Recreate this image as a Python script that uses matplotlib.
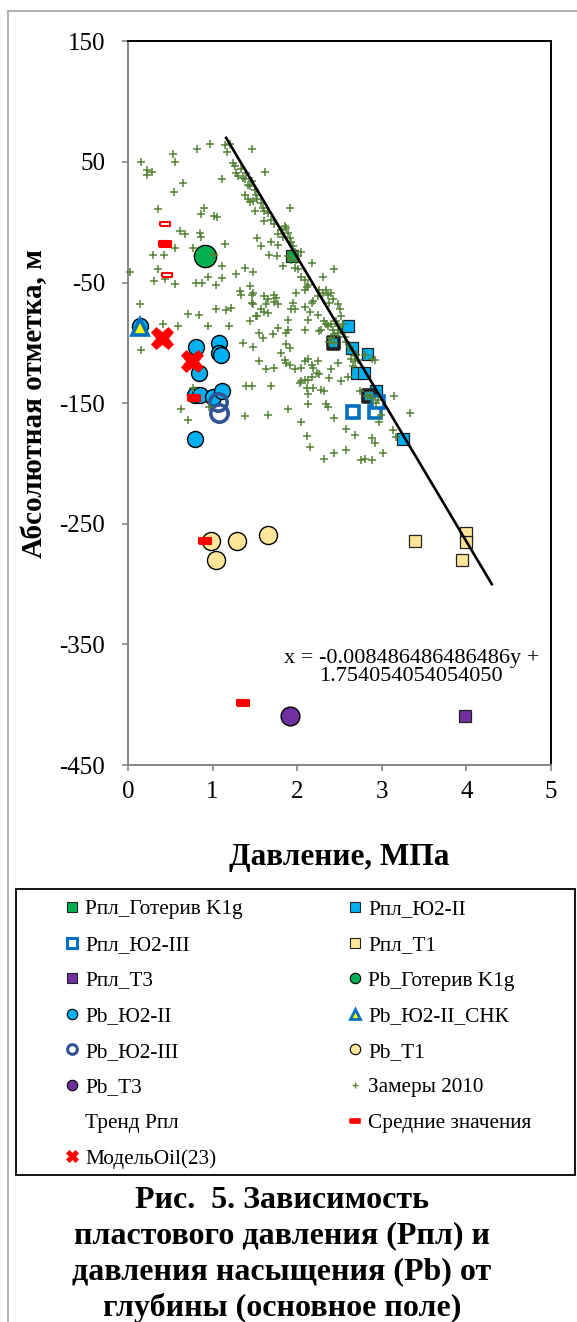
import matplotlib.pyplot as plt
from matplotlib.lines import Line2D
from matplotlib.patches import Rectangle
from matplotlib.markers import MarkerStyle

plt.rcParams['font.family'] = ['Liberation Serif', 'DejaVu Serif']
plt.rcParams['axes.unicode_minus'] = False

# ---------------- data (pressure, MPa ; absolute mark, m) ----------------
rpl_k1g_p = [1.94]
rpl_k1g_h = [-28]

rpl_u2ii_p = [2.60, 2.43, 2.65, 2.83, 2.71, 2.79, 2.93, 2.85, 3.25]
rpl_u2ii_h = [-86, -100, -104, -109, -125, -125, -140, -144, -180]

rpl_u2iii_p = [2.66, 2.92, 2.95]
rpl_u2iii_h = [-157, -157, -149]

rpl_t1_p = [3.39, 4.00, 3.99, 3.95]
rpl_t1_h = [-264, -258, -265, -280]

rpl_t3_p = [3.98]
rpl_t3_h = [-409]

pb_k1g_p = [0.91]
pb_k1g_h = [-28]

pb_u2ii_p = [0.14, 0.80, 1.08, 1.07, 1.10, 0.84, 0.79, 0.85, 1.01, 1.11, 0.79]
pb_u2ii_h = [-86, -103, -100, -108, -110, -125, -143, -143, -145, -140, -180]

pb_snk_p = [0.14]
pb_snk_h = [-87]

pb_u2iii_p = [1.06, 1.07]
pb_u2iii_h = [-149, -158]

pb_t1_p = [0.98, 1.29, 1.65, 1.04]
pb_t1_h = [-264, -264, -259, -280]

pb_t3_p = [1.91]
pb_t3_h = [-409]

mean_p = [0.44, 0.78, 0.91, 1.36]
mean_h = [-18, -146, -264, -399]
mean_open_p = [0.44, 0.46]
mean_open_h = [-1, -44]

model_p = [0.40, 0.76]
model_h = [-96, -115]

# trend: x = k*y + b
trend_k = -0.008486486486486
trend_b = 1.754054054054050
trend_h = [70, -300]

# Замеры 2010
zam_p = [
    0.97, 0.82, 0.53, 0.56, 0.15, 0.22, 0.28, 0.23, 1.46, 1.62,
    1.11, 0.65, 0.54, 0.35, 0.90, 0.86, 1.02, 1.05, 0.61, 0.67,
    0.85, 0.86, 0.29, 0.43, 0.55, 0.77, 1.15, 1.02, 0.36, 0.31,
    0.44, 0.56, 0.80, 0.88, 0.94, 1.04, 1.11, 1.11, 1.38, 1.48,
    1.28, 0.02, 0.14, 0.71, 0.84, 1.04, 1.16,
    1.15, 1.17, 1.20, 1.24, 1.26, 1.28, 1.30, 1.34, 1.36, 1.38,
    1.40, 1.42, 1.44, 1.46, 1.50, 1.38, 1.42, 1.44, 1.51, 1.53,
    1.57, 1.59, 1.61, 1.65, 1.48, 1.50, 1.69, 1.73, 1.77, 1.81,
    1.83, 1.85, 1.87, 1.89, 1.91, 1.93, 1.95, 1.97, 1.99, 2.01,
    2.05, 1.93, 1.97, 2.01, 2.05, 2.09, 2.13, 2.17, 1.77, 1.69,
    1.53, 1.57, 1.67, 1.76, 1.83, 1.89, 1.92, 1.61,
    2.44, 2.30,
    1.32, 1.34, 1.44, 1.46, 1.48, 1.46, 1.48, 1.61, 1.65, 1.63,
    1.73, 1.75, 1.77, 1.73, 1.61, 1.57, 1.65, 1.53, 1.22, 1.44,
    1.51, 1.93, 1.97, 1.95, 1.99, 2.09, 2.11, 2.17, 2.19, 2.09,
    2.15, 2.24, 2.26, 2.30, 2.34, 2.36, 2.40, 2.38, 2.42, 2.48,
    2.50, 2.52, 2.24, 2.32, 2.34, 2.40, 2.36, 2.42, 2.44, 2.48,
    2.52, 2.56, 2.40, 2.38, 2.44, 2.28, 2.26, 2.09, 2.13, 1.89,
    1.89, 1.87, 1.77, 1.71, 1.55, 1.59, 1.36, 1.48, 1.87, 1.91,
    1.81, 1.85, 1.87, 1.91, 1.97, 2.05, 2.09, 2.13, 2.17, 2.19,
    2.24, 2.23, 2.26, 2.17, 2.09, 2.13, 2.05, 2.03, 2.11, 2.13,
    2.19, 2.28, 2.32, 2.38, 2.40, 2.52, 2.48, 2.60, 2.64, 2.66,
    2.68, 2.74, 2.88, 2.92, 2.80, 2.82, 2.88, 2.95, 3.14, 3.33,
    3.13, 3.17, 2.88, 2.92, 3.01, 2.76, 2.80, 2.88, 2.58, 2.44,
    2.32, 2.15, 2.11, 2.05, 2.58, 2.68, 2.44, 2.36, 2.34, 2.13,
    1.89, 1.65, 1.38, 1.40, 1.46, 1.69, 1.63, 1.73, 1.55, 2.97,
    2.99, 2.93, 2.86, 2.62, 2.66, 2.70, 2.72, 2.68, 2.58, 2.48,
    2.46, 2.54,
    0.41, 0.15, 0.59, 0.94, 1.19, 0.63, 0.71, 0.77, 0.96,
]
zam_h = [
    65, 61, 57, 50, 50, 43, 42, 39, 61, 42,
    36, 33, 25, 11, 12, 7, 5, 4, -7, -10,
    -9, -12, -27, -27, -21, -21, -18, -27, -39, -49,
    -47, -51, -50, -50, -45, -52, -46, -36, -38, -41,
    -43, -41, -68, -76, -77, -72, -73,
    64, 58, 65, 49, 47, 41, 38, 44, 37, 36,
    41, 31, 30, 34, 27, 23, 19, 17, 23, 19,
    16, 12, 9, 8, 18, 9, 2, -1, -10, -6,
    -12, -3, -5, -9, -13, -16, -20, -25, -31, -28,
    -25, -31, -38, -39, -45, -48, -52, -34, -19, -16,
    -13, -20, -27, -28, -36, -28, 12, 1,
    -39, -45,
    -57, -60, -53, -60, -59, -67, -68, -61, -64, -68,
    -60, -63, -68, -66, -74, -72, -75, -78, -71, -82,
    -78, -72, -72, -67, -59, -56, -54, -67, -65, -70,
    -74, -61, -56, -59, -56, -60, -59, -67, -64, -68,
    -72, -78, -77, -82, -84, -84, -86, -89, -93, -92,
    -90, -95, -96, -99, -100, -89, -90, -89, -81, -81,
    -89, -92, -88, -93, -92, -96, -100, -103, -101, -104,
    -108, -114, -117, -118, -122, -121, -115, -113, -118, -121,
    -115, -125, -126, -128, -131, -131, -132, -133, -137, -142,
    -137, -139, -140, -129, -122, -132, -117, -128, -113, -119,
    -115, -140, -113, -114, -110, -144, -146, -147, -144, -158,
    -172, -178, -179, -183, -191, -197, -196, -197, -189, -191,
    -196, -186, -177, -166, -171, -176, -162, -153, -151, -151,
    -155, -160, -161, -136, -136, -136, -122, -121, -115, -166,
    -160, -150, -143, -103, -107, -110, -114, -111, -99, -86,
    -82, -84,
    -84, -106, -86, -86, -86, -155, -164, -137, -153,
]

xticks = [0, 1, 2, 3, 4, 5]
yticks = [150, 50, -50, -150, -250, -350, -450]

title_lines = ["Рис.  5. Зависимость",
               "пластового давления (Рпл) и",
               "давления насыщения (Pb) от",
               "глубины (основное поле)"]

# ---------------- figure ----------------
W, H = 577, 1322
fig = plt.figure(figsize=(W / 100, H / 100), dpi=100)
ax = fig.add_axes([128 / W, 1 - 765 / H, (551 - 128) / W, (765 - 41.4) / H])

bar = MarkerStyle([(-1, -0.45), (1, -0.45), (1, 0.45), (-1, 0.45), (-1, -0.45)],
                  joinstyle='round')
kw = dict(ls='none', clip_on=False)

ax.plot(rpl_k1g_p, rpl_k1g_h, marker='s', ms=8.5, mfc='#00B050', mec='#222222', mew=0.9, zorder=3, **kw)
# two of the Ю2-II squares have a heavy black outline in the original
edge_w = [0.9, 2.6, 0.9, 0.9, 0.9, 0.9, 0.9, 2.6, 0.9]
ax.scatter(rpl_u2ii_p, rpl_u2ii_h, marker='s', s=72, c='#00B0F0', edgecolors='#222222',
           linewidths=edge_w, zorder=3, clip_on=False)
ax.plot(rpl_u2iii_p, rpl_u2iii_h, marker='s', ms=8.5, mfc='white', mec='#0070C0', mew=2.6, zorder=3, **kw)
ax.plot(rpl_t1_p, rpl_t1_h, marker='s', ms=8.5, mfc='#FFE699', mec='#222222', mew=0.9, zorder=3, **kw)
ax.plot(rpl_t3_p, rpl_t3_h, marker='s', ms=8.5, mfc='#7030A0', mec='#222222', mew=0.9, zorder=3, **kw)
ax.plot(pb_k1g_p, pb_k1g_h, marker='o', ms=16, mfc='#00B050', mec='black', mew=1.0, zorder=3, **kw)
ax.plot(pb_u2ii_p, pb_u2ii_h, marker='o', ms=11.5, mfc='#00B0F0', mec='black', mew=1.0, zorder=3, **kw)
ax.plot(pb_snk_p, pb_snk_h, marker='^', ms=12, mfc='#FFFF00', mec='#0070C0', mew=2.6, zorder=3, **kw)
ax.plot(pb_u2iii_p, pb_u2iii_h, marker='o', ms=12.5, mfc='none', mec='#2F5597', mew=2.6, zorder=3, **kw)
ax.plot(pb_t1_p, pb_t1_h, marker='o', ms=13, mfc='#FFE699', mec='black', mew=1.0, zorder=3, **kw)
ax.plot(pb_t3_p, pb_t3_h, marker='o', ms=13.5, mfc='#7030A0', mec='black', mew=1.0, zorder=3, **kw)
ax.plot(zam_p, zam_h, marker='+', ms=5.5, mec='#548235', mew=1.1, zorder=4, **kw)

trend_p = [trend_k * h + trend_b for h in trend_h]
ax.plot(trend_p, trend_h, color='black', lw=1.9, zorder=5)

ax.plot(mean_p, mean_h, marker=bar, ms=8.5, mfc='#FF0000', mec='#FF0000', mew=1.5, zorder=6, **kw)
ax.plot(mean_open_p, mean_open_h, marker=bar, ms=7.5, mfc='white', mec='#FF0000', mew=1.5, zorder=6, **kw)
ax.plot(model_p, model_h, marker='X', ms=16, mfc='#FF0000', mec='#FF0000', mew=0.5, zorder=7, **kw)

ax.text(3.35, -369, "x = -0.008486486486486y +\n1.754054054054050",
        ha='center', va='center', fontsize=16, linespacing=0.95)

ax.set_xlim(0, 5)
ax.set_ylim(-450, 150)
ax.set_xticks(xticks)
ax.set_yticks(yticks)
for s in ['top', 'right']:
    ax.spines[s].set_color('black')
    ax.spines[s].set_linewidth(1.4)
for s in ['left', 'bottom']:
    ax.spines[s].set_color('#868686')
    ax.spines[s].set_linewidth(1.4)
ax.tick_params(axis='both', direction='out', length=4.5, width=1.2,
               color='#868686', labelsize=18)
ax.tick_params(axis='y', pad=12)
ax.tick_params(axis='x', pad=7)

ax.set_ylabel('Абсолютная отметка, м', fontsize=21, fontweight='bold', va='center')
ax.yaxis.set_label_coords((35 - 128) / 423, 0.5)
ax.set_xlabel('Давление, МПа', fontsize=22.5, fontweight='bold', va='center')
ax.xaxis.set_label_coords(0.5, (765 - 858) / 723.6)

# ---------------- legend ----------------
def proxy(**m):
    return Line2D([], [], ls='none', **m)

h_rpl_k1g = proxy(marker='s', ms=7, mfc='#00B050', mec='#222222', mew=0.8)
h_rpl_u2ii = proxy(marker='s', ms=7, mfc='#00B0F0', mec='#222222', mew=0.8)
h_rpl_u2iii = proxy(marker='s', ms=6.5, mfc='white', mec='#0070C0', mew=2.2)
h_rpl_t1 = proxy(marker='s', ms=7, mfc='#FFE699', mec='#222222', mew=0.8)
h_rpl_t3 = proxy(marker='s', ms=7, mfc='#7030A0', mec='#222222', mew=0.8)
h_pb_k1g = proxy(marker='o', ms=7.5, mfc='#00B050', mec='black', mew=0.8)
h_pb_u2ii = proxy(marker='o', ms=7.5, mfc='#00B0F0', mec='black', mew=0.8)
h_pb_snk = proxy(marker='^', ms=7.5, mfc='#FFFF00', mec='#0070C0', mew=2.0)
h_pb_u2iii = proxy(marker='o', ms=7, mfc='white', mec='#2F5597', mew=2.2)
h_pb_t1 = proxy(marker='o', ms=7.5, mfc='#FFE699', mec='black', mew=0.8)
h_pb_t3 = proxy(marker='o', ms=7.5, mfc='#7030A0', mec='black', mew=0.8)
h_zam = proxy(marker='+', ms=4.5, mec='#548235', mew=1.0)
h_trend = Line2D([], [], color='none')
h_mean = proxy(marker=bar, ms=7, mfc='#FF0000', mec='#FF0000', mew=1.2)
h_model = proxy(marker='X', ms=9, mfc='#FF0000', mec='#FF0000', mew=0.5)

col1 = [(h_rpl_k1g, 'Рпл_Готерив K1g'), (h_rpl_u2iii, 'Рпл_Ю2-III'), (h_rpl_t3, 'Рпл_Т3'),
        (h_pb_u2ii, 'Pb_Ю2-II'), (h_pb_u2iii, 'Pb_Ю2-III'), (h_pb_t3, 'Pb_Т3'),
        (h_trend, 'Тренд Рпл'), (h_model, 'МодельOil(23)')]
col2 = [(h_rpl_u2ii, 'Рпл_Ю2-II'), (h_rpl_t1, 'Рпл_Т1'), (h_pb_k1g, 'Pb_Готерив K1g'),
        (h_pb_snk, 'Pb_Ю2-II_СНК'), (h_pb_t1, 'Pb_Т1'), (h_zam, 'Замеры 2010'),
        (h_mean, 'Средние значения')]
items = col1 + col2
fig.legend([i[0] for i in items], [i[1] for i in items], ncol=2,
           loc='upper left', bbox_to_anchor=(63.5 / W, 1 - 899.5 / H),
           bbox_transform=fig.transFigure, frameon=False, fontsize=15.3,
           borderpad=0, borderaxespad=0, handlelength=0.8, handletextpad=0.21,
           columnspacing=4.9, labelspacing=0.74)

fig.add_artist(Rectangle((16 / W, 1 - 1175 / H), (575 - 16) / W, (1175 - 889) / H,
                         transform=fig.transFigure, fill=False, ec='black', lw=1.3))
# outer gray frame (left and top)
fig.add_artist(Line2D([8 / W, 8 / W], [0, 1 - 11 / H], transform=fig.transFigure,
                      color='#A6A6A6', lw=1.2))
fig.add_artist(Line2D([8 / W, 1], [1 - 11 / H, 1 - 11 / H], transform=fig.transFigure,
                      color='#A6A6A6', lw=1.2))

for i, line in enumerate(title_lines):
    fig.text(282 / W, 1 - (1200 + 36 * i) / H, line, ha='center', va='center',
             fontsize=23, fontweight='bold')

fig.savefig('out.png', dpi=100)
